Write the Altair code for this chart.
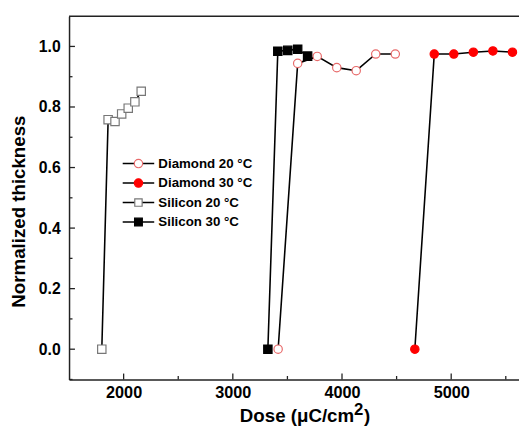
import altair as alt
import pandas as pd

# ---- data ----
si20_x = [1800, 1858, 1921, 1982, 2042, 2103, 2161]
si20_y = [0.0, 0.758, 0.752, 0.777, 0.796, 0.817, 0.852]

si30_x = [3321, 3412, 3503, 3594, 3685]
si30_y = [0.0, 0.984, 0.987, 0.991, 0.968]

di20_x = [3415, 3594, 3773, 3952, 4130, 4309, 4488]
di20_y = [0.0, 0.944, 0.967, 0.930, 0.920, 0.975, 0.975]

di30_x = [4667, 4845, 5024, 5203, 5382, 5561]
di30_y = [0.0, 0.975, 0.975, 0.981, 0.985, 0.981]

series_names = ["Diamond 20 °C", "Diamond 30 °C", "Silicon 20 °C", "Silicon 30 °C"]
series_shape = ["circle", "circle", "square", "square"]
series_fill = ["white", "#ff0000", "white", "black"]
series_stroke = ["#e86a6a", "#ff0000", "#777777", "black"]
series_size = [72, 72, 56, 62]

x_major = [2000, 3000, 4000, 5000]
x_minor = [2500, 3500, 4500, 5500]
y_major = [0.0, 0.2, 0.4, 0.6, 0.8, 1.0]
y_minor = [-0.1, 0.1, 0.3, 0.5, 0.7, 0.9]

x_domain = [1500, 5621]
y_domain = [-0.1, 1.1]

x_title_main = "Dose (μC/cm"
x_title_sup = "2"
x_title_end = ")"
y_title = "Normalized thickness"

W, H = 457, 369
FONT = "Liberation Sans"

rows = []
for name, xs, ys in [
    ("Diamond 20 °C", di20_x, di20_y),
    ("Diamond 30 °C", di30_x, di30_y),
    ("Silicon 20 °C", si20_x, si20_y),
    ("Silicon 30 °C", si30_x, si30_y),
]:
    for i, (xv, yv) in enumerate(zip(xs, ys)):
        rows.append({"series": name, "dose": xv, "thick": yv, "order": i})
df = pd.DataFrame(rows)

xscale = alt.Scale(domain=x_domain, nice=False, zero=False)
yscale = alt.Scale(domain=y_domain, nice=False, zero=False)

xaxis = alt.Axis(
    values=x_major, format="d", ticks=False, grid=False,
    labelFont=FONT, labelFontSize=16.5, labelFontWeight="bold", labelColor="black",
    labelPadding=5, domainColor="#222222", domainWidth=1.5,
    title="",
)
yaxis = alt.Axis(
    values=y_major, format=".1f", ticks=False, grid=False,
    labelFont=FONT, labelFontSize=16, labelFontWeight="bold", labelColor="black",
    labelPadding=9, domainColor="#222222", domainWidth=1.5,
    title=y_title, titleFont=FONT, titleFontSize=19, titleFontWeight="bold",
    titleColor="black", titleX=-45, titleY=198, titleBaseline="alphabetic", titleAngle=-90,
)

base = alt.Chart(df)

lines = base.mark_line(color="black", strokeWidth=1.6, clip=True).encode(
    x=alt.X("dose:Q", scale=xscale, axis=xaxis),
    y=alt.Y("thick:Q", scale=yscale, axis=yaxis),
    detail="series:N",
    order="order:Q",
)

points = base.mark_point(filled=False, strokeWidth=1.2, opacity=1, clip=True).encode(
    x=alt.X("dose:Q", scale=xscale),
    y=alt.Y("thick:Q", scale=yscale),
    shape=alt.Shape("series:N", scale=alt.Scale(domain=series_names, range=series_shape), legend=None),
    fill=alt.Fill("series:N", scale=alt.Scale(domain=series_names, range=series_fill), legend=None),
    stroke=alt.Stroke("series:N", scale=alt.Scale(domain=series_names, range=series_stroke), legend=None),
    size=alt.Size("series:N", scale=alt.Scale(domain=series_names, range=series_size), legend=None),
)

# inward ticks
xt_major = alt.Chart(pd.DataFrame({"v": x_major})).mark_rule(color="#222222", strokeWidth=1.3).encode(
    x=alt.X("v:Q", scale=xscale), y=alt.value(H), y2=alt.value(H - 6))
xt_minor = alt.Chart(pd.DataFrame({"v": x_minor})).mark_rule(color="#222222", strokeWidth=1.3).encode(
    x=alt.X("v:Q", scale=xscale), y=alt.value(H), y2=alt.value(H - 3.5))
yt_major = alt.Chart(pd.DataFrame({"v": y_major})).mark_rule(color="#222222", strokeWidth=1.3).encode(
    y=alt.Y("v:Q", scale=yscale), x=alt.value(0), x2=alt.value(6))
yt_minor = alt.Chart(pd.DataFrame({"v": y_minor})).mark_rule(color="#222222", strokeWidth=1.3).encode(
    y=alt.Y("v:Q", scale=yscale), x=alt.value(0), x2=alt.value(3.5))

top_line = alt.Chart(pd.DataFrame({"a": [0]})).mark_rule(color="#222222", strokeWidth=1.5).encode(
    x=alt.value(0), x2=alt.value(W), y=alt.value(0))

# x-axis title with a full-size raised "2"
t_main = alt.Chart(pd.DataFrame({"t": [x_title_main]})).mark_text(
    align="left", baseline="alphabetic", font=FONT, fontSize=19, fontWeight="bold", color="black"
).encode(x=alt.value(173.5), y=alt.value(412.5), text="t:N")
t_sup = alt.Chart(pd.DataFrame({"t": [x_title_sup]})).mark_text(
    align="left", baseline="alphabetic", font=FONT, fontSize=17, fontWeight="bold", color="black"
).encode(x=alt.value(289.5), y=alt.value(405), text="t:N")
t_end = alt.Chart(pd.DataFrame({"t": [x_title_end]})).mark_text(
    align="left", baseline="alphabetic", font=FONT, fontSize=19, fontWeight="bold", color="black"
).encode(x=alt.value(299.5), y=alt.value(412.5), text="t:N")

# legend
leg_layers = []
row_y0, row_dy = 149.7, 19.8
for i, name in enumerate(series_names):
    yy = row_y0 + i * row_dy
    one = pd.DataFrame({"label": [name]})
    leg_layers.append(alt.Chart(one).mark_rule(color="black", strokeWidth=1.6).encode(
        x=alt.value(54.5), x2=alt.value(86.5), y=alt.value(yy)))
    leg_layers.append(alt.Chart(one).mark_point(
        shape=series_shape[i], filled=True, fill=series_fill[i], stroke=series_stroke[i],
        strokeWidth=1.2, size=series_size[i], opacity=1).encode(
        x=alt.value(70.5), y=alt.value(yy)))
    leg_layers.append(alt.Chart(one).mark_text(
        align="left", baseline="middle", font=FONT, fontSize=13.5, fontWeight="bold",
        color="black").encode(
        x=alt.value(90.7), y=alt.value(yy + 0.5), text="label:N"))

chart = alt.layer(
    lines, points, xt_major, xt_minor, yt_major, yt_minor, top_line,
    t_main, t_sup, t_end, *leg_layers
).properties(
    width=W, height=H,
    autosize=alt.AutoSizeParams(type="none"),
    padding={"left": 62, "top": 5, "right": 0, "bottom": 46},
    background="white",
).configure_view(stroke=None)

chart.save("out.html", embed_options={"renderer": "svg", "actions": False})
